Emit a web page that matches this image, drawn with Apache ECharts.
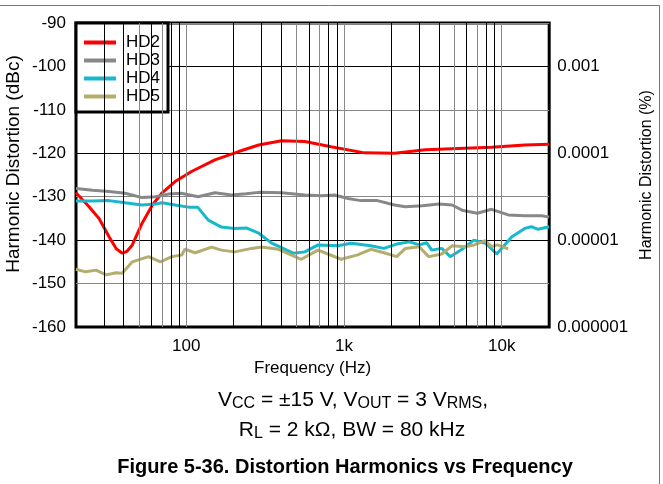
<!DOCTYPE html>
<html>
<head>
<meta charset="utf-8">
<script src="https://cdn.jsdelivr.net/npm/echarts@6/dist/echarts.min.js"></script>
<style>
  html, body { margin: 0; padding: 0; background: #fff; }
  #main { width: 663px; height: 484px; }
</style>
</head>
<body>
<div id="main"></div>
<script>
// ---------------- data ----------------
// frequency (Hz) / level (dBc) for each harmonic
var hd2Freq = [20, 24.2, 28, 32.4, 36, 39.3, 42, 45.5, 52.5, 61, 70, 85, 108, 152, 215, 288, 402, 565, 828, 1346, 2090, 3290, 5300, 8630, 14000, 20000];
var hd2Db   = [-129.1, -132.3, -135.0, -139.2, -142.0, -143.0, -142.6, -141.1, -136.1, -131.9, -129.2, -126.5, -124.2, -121.5, -119.6, -118.1, -117.1, -117.3, -118.5, -119.9, -120.0, -119.2, -118.9, -118.6, -118.1, -117.9];

var hd3Freq = [20, 25.5, 32.4, 41, 52.5, 63.7, 77, 93, 119, 152, 194, 240, 288, 402, 565, 720, 870, 1060, 1280, 1630, 2090, 2450, 3130, 4000, 4850, 5600, 7000, 8630, 11000, 14000, 18000, 20000];
var hd3Db   = [-128.1, -128.5, -128.8, -129.2, -130.2, -130.0, -129.4, -129.2, -130.0, -129.1, -129.6, -129.3, -129.0, -129.1, -129.6, -129.8, -129.6, -130.4, -130.9, -130.9, -131.9, -132.3, -132.1, -131.7, -131.9, -133.1, -133.8, -132.9, -134.2, -134.4, -134.4, -134.7];

var hd4Freq = [20, 25.5, 32.4, 41, 52.5, 63.7, 70, 85, 103, 118, 138, 167, 203, 240, 288, 348, 477, 565, 685, 915, 1110, 1480, 1790, 2160, 2600, 3000, 3350, 3600, 4170, 4720, 5600, 6660, 7900, 9300, 11600, 14000, 15400, 17000, 20000];
var hd4Db   = [-131.0, -131.0, -130.9, -131.4, -131.9, -131.7, -131.4, -131.9, -132.4, -132.4, -135.4, -137.0, -137.3, -137.2, -138.4, -140.7, -143.0, -142.7, -141.1, -141.3, -140.7, -141.3, -141.9, -140.9, -140.4, -141.1, -140.6, -142.3, -141.9, -143.8, -142.1, -140.0, -140.7, -143.2, -139.2, -137.3, -136.9, -137.5, -136.9];

var hd5Freq = [20, 23, 26.8, 31, 35.9, 39.3, 45.5, 57.6, 68.6, 81, 93.7, 98, 114, 145, 167, 203, 260, 300, 384, 536, 685, 960, 1220, 1480, 1790, 2160, 2450, 3000, 3440, 4170, 4850, 5830, 6690, 7850, 8630, 9360, 11000];
var hd5Db   = [-146.7, -147.3, -146.9, -148.0, -147.5, -147.6, -145.0, -143.8, -145.0, -143.8, -143.4, -142.1, -142.9, -141.6, -142.3, -142.7, -141.9, -141.6, -142.1, -144.4, -142.3, -144.4, -143.4, -142.1, -142.9, -143.8, -141.9, -141.5, -143.8, -143.2, -141.3, -141.5, -141.1, -140.1, -141.5, -141.1, -142.0];

// axis ticks
var freqLabels = { 100: '100', 1000: '1k', 10000: '10k' };
var gridFreqs = [30, 40, 50, 60, 70, 80, 90, 100, 200, 300, 400, 500, 600, 700, 800, 900,
                 1000, 2000, 3000, 4000, 5000, 6000, 7000, 8000, 9000, 10000];

function pairs(xs, ys) {
  var out = [];
  for (var i = 0; i < xs.length; i++) out.push([xs[i], ys[i]]);
  return out;
}

var FONT = 'Liberation Sans, Arial, sans-serif';

var myChart = echarts.init(document.getElementById('main'));

var subRich = {
  n: { fontSize: 21, lineHeight: 24, verticalAlign: 'middle', fontFamily: FONT, color: '#000' },
  s: { fontSize: 16, lineHeight: 12, verticalAlign: 'bottom', fontFamily: FONT, color: '#000' }
};

var option = {
  animation: false,
  textStyle: { fontFamily: FONT },
  grid: {
    left: 76, right: 110, top: 23, bottom: 157,
    show: true, borderColor: '#000', borderWidth: 3, backgroundColor: 'transparent'
  },
  legend: {
    orient: 'vertical',
    left: 76, top: 23,
    backgroundColor: '#fff',
    borderColor: '#000', borderWidth: 3,
    padding: [11, 8, 7, 8],
    itemGap: 1,
    itemWidth: 32, itemHeight: 4,
    icon: 'rect',
    textStyle: { fontSize: 17, color: '#000', fontFamily: FONT, padding: [0, 0, 0, 5] },
    data: ['HD2', 'HD3', 'HD4', 'HD5']
  },
  xAxis: {
    type: 'log', logBase: 10, min: 20, max: 20000,
    name: 'Frequency (Hz)', nameLocation: 'middle', nameGap: 27,
    nameTextStyle: { fontSize: 17, color: '#000', fontFamily: FONT },
    axisLine: { show: false },
    axisTick: { show: false },
    splitLine: { show: false },
    axisLabel: {
      fontSize: 17, color: '#000', margin: 11,
      formatter: function (v) { return freqLabels[Math.round(v)] || ''; }
    }
  },
  yAxis: [{
    type: 'value', min: -160, max: -90, interval: 10,
    axisLine: { show: false }, axisTick: { show: false },
    axisLabel: { fontSize: 17, color: '#000', margin: 10 },
    splitLine: { show: true, lineStyle: { color: ['#000', '#888'], width: 1 } }
  }, {
    type: 'value', min: -160, max: -90, interval: 20, position: 'right',
    name: 'Harmonic Distortion (%)', nameLocation: 'middle', nameGap: 78, nameRotate: 90,
    nameTextStyle: { fontSize: 16, color: '#000', fontFamily: FONT },
    axisLine: { show: false }, axisTick: { show: false },
    splitLine: { show: false },
    axisLabel: {
      fontSize: 17, color: '#000', margin: 8,
      formatter: function (v) {
        if (v > -100) return '';
        var p = 100 * Math.pow(10, v / 20);
        return p.toFixed(Math.round(-Math.log10(p)));
      }
    }
  }],
  series: [{
    // vertical grid lines
    name: 'grid', type: 'line', data: [], z: 1, silent: true,
    markLine: {
      silent: true, symbol: ['none', 'none'], label: { show: false },
      data: gridFreqs.map(function (f) {
        var lead = f / Math.pow(10, Math.floor(Math.log10(f) + 1e-9));
        var grey = Math.abs(lead - 1) < 1e-6 || Math.abs(lead - 5) < 1e-6 || Math.abs(lead - 7) < 1e-6;
        return { xAxis: f, lineStyle: { color: grey ? '#888' : '#000', width: 1, type: 'solid' } };
      })
    }
  }, {
    name: 'HD2', type: 'line', showSymbol: false, z: 3,
    color: '#ff0000', lineStyle: { width: 3 }, data: pairs(hd2Freq, hd2Db)
  }, {
    name: 'HD3', type: 'line', showSymbol: false, z: 3,
    color: '#888888', lineStyle: { width: 3 }, data: pairs(hd3Freq, hd3Db)
  }, {
    name: 'HD4', type: 'line', showSymbol: false, z: 3,
    color: '#16b8cc', lineStyle: { width: 3 }, data: pairs(hd4Freq, hd4Db)
  }, {
    name: 'HD5', type: 'line', showSymbol: false, z: 3,
    color: '#b3ae6e', lineStyle: { width: 3 }, data: pairs(hd5Freq, hd5Db)
  }],
  graphic: [
    { type: 'line', shape: { x1: 0, y1: 5.5, x2: 659.5, y2: 5.5 }, style: { stroke: '#777', lineWidth: 1 } },
    { type: 'line', shape: { x1: 659.5, y1: 5.5, x2: 659.5, y2: 484 }, style: { stroke: '#777', lineWidth: 1 } },
    {
      // left axis title
      type: 'text', x: 14, y: 164, rotation: Math.PI / 2,
      style: {
        text: 'Harmonic Distortion (dBc)',
        align: 'center', verticalAlign: 'middle',
        font: '19px ' + FONT, fill: '#000'
      }
    },
    {
      type: 'text', x: 353, y: 400,
      style: {
        text: '{n|V}{s|CC}{n| = \u00b115 V, V}{s|OUT}{n| = 3 V}{s|RMS}{n|,}',
        align: 'center', verticalAlign: 'middle', fill: '#000',
        rich: subRich
      }
    },
    {
      type: 'text', x: 352, y: 430,
      style: {
        text: '{n|R}{s|L}{n| = 2 k\u03a9, BW = 80 kHz}',
        align: 'center', verticalAlign: 'middle', fill: '#000',
        rich: subRich
      }
    },
    {
      type: 'text', x: 345, y: 467,
      style: {
        text: 'Figure 5-36. Distortion Harmonics vs Frequency',
        align: 'center', verticalAlign: 'middle',
        font: 'bold 20px ' + FONT, fill: '#000'
      }
    }
  ]
};

myChart.setOption(option);
</script>
</body>
</html>
